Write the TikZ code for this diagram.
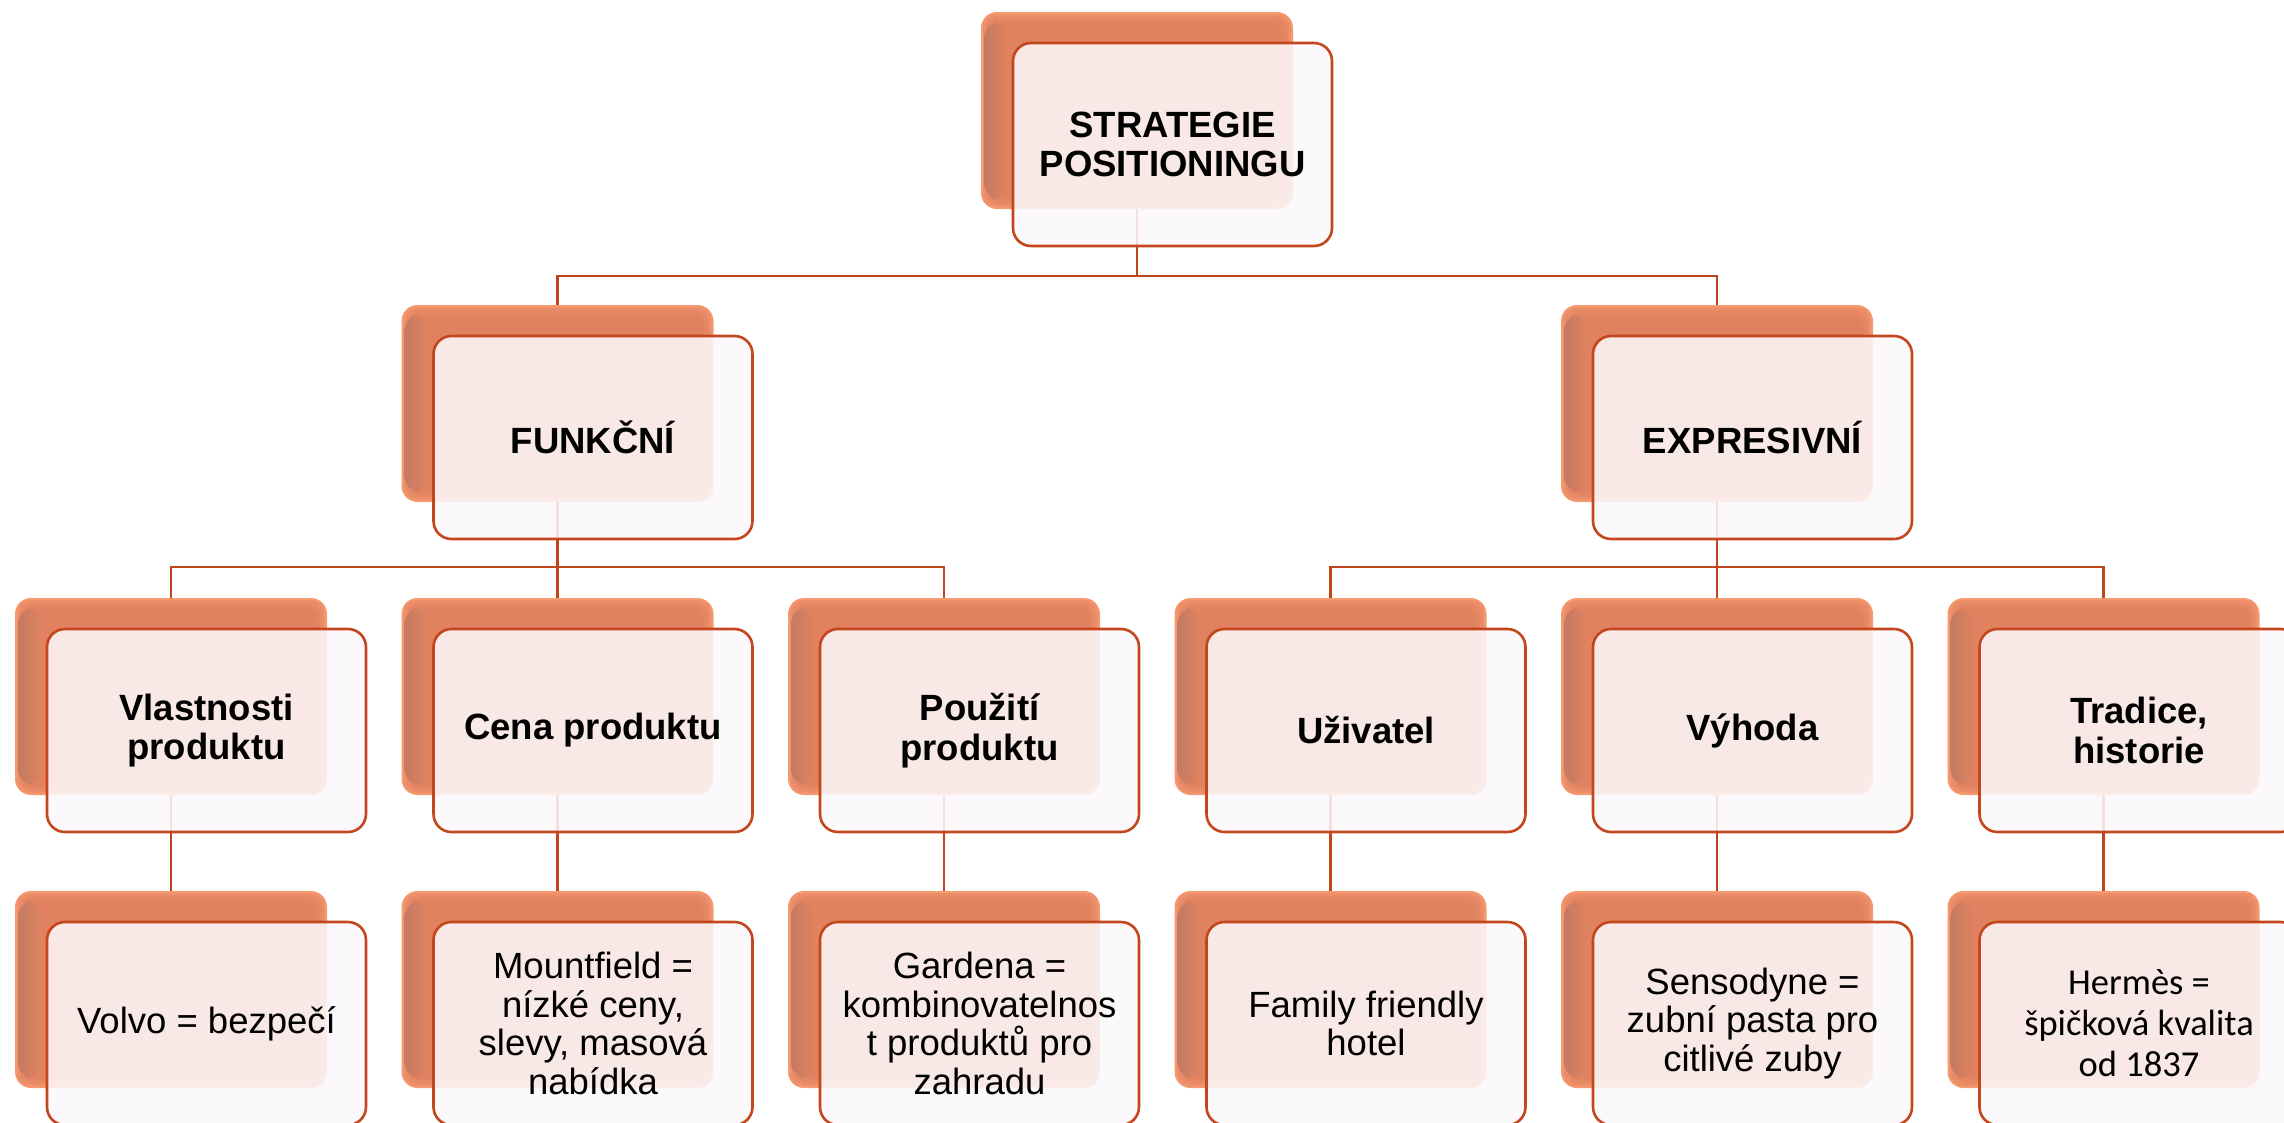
\documentclass[tikz,border=0pt]{standalone}
\usepackage{fontspec}
\setmainfont{Liberation Sans}
\newfontfamily\calibfont{Carlito}
\usetikzlibrary{calc}
\definecolor{edgeor}{HTML}{F69A70}
\definecolor{backmain}{HTML}{E0825F}
\definecolor{leftdark}{HTML}{C47A63}
\definecolor{frontfill}{HTML}{FCF8FB}
\definecolor{frontdraw}{HTML}{C4461C}
\definecolor{connc}{HTML}{C0461E}
\begin{document}
\begin{tikzpicture}[x=1pt,y=-1pt,
  backbox/.style={rectangle, rounded corners=16, minimum width=312, minimum height=197,
    inner sep=0, fill=edgeor,
    path picture={
      \foreach \i in {1,...,7}{
        \fill[backmain, fill opacity=0.35, rounded corners=12]
          ([xshift=\i*2pt, yshift=-\i*2pt]path picture bounding box.north west)
          rectangle ([xshift=-\i*2pt, yshift=\i*2pt]path picture bounding box.south east);
      }
      \shade[left color=leftdark, right color=backmain]
        ([xshift=3pt, yshift=-10pt]path picture bounding box.north west)
        rectangle ([xshift=26pt, yshift=10pt]path picture bounding box.south west);
    }},
  frontbox/.style={rectangle, rounded corners=18, minimum width=319, minimum height=203,
    inner sep=4, draw=frontdraw, line width=2.6, fill=frontfill, fill opacity=0.87,
    text opacity=1, align=center, text=black},
  headtxt/.style={font=\bfseries\fontsize{36.5}{39.5}\selectfont},
  leaftxt/.style={font=\fontsize{36.5}{38.5}\selectfont},
  conn/.style={draw=connc, line width=2.8}
]
\useasboundingbox (0,0) rectangle (2284,1122);

% back boxes
\node[backbox] (topB) at (1137,110.5) {};
\node[backbox] (funB) at (557.5,403.5) {};
\node[backbox] (expB) at (1717,403.5) {};
\node[backbox] (vlB) at (171,696.5) {};
\node[backbox] (ceB) at (557.5,696.5) {};
\node[backbox] (poB) at (944,696.5) {};
\node[backbox] (uzB) at (1330.5,696.5) {};
\node[backbox] (vyB) at (1717,696.5) {};
\node[backbox] (trB) at (2103.5,696.5) {};
\node[backbox] (voB) at (171,989.5) {};
\node[backbox] (moB) at (557.5,989.5) {};
\node[backbox] (gaB) at (944,989.5) {};
\node[backbox] (faB) at (1330.5,989.5) {};
\node[backbox] (seB) at (1717,989.5) {};
\node[backbox] (heB) at (2103.5,989.5) {};

% buses
\coordinate (bus1) at (0,276);
\coordinate (bus2) at (0,567);

% connectors
\draw[conn] (topB.south) -- (topB.south |- bus1) -| (funB.north);
\draw[conn] (topB.south |- bus1) -| (expB.north);
\draw[conn] (funB.south) -- (funB.south |- bus2) -| (vlB.north);
\draw[conn] (funB.south |- bus2) -| (ceB.north);
\draw[conn] (funB.south |- bus2) -| (poB.north);
\draw[conn] (expB.south) -- (expB.south |- bus2) -| (uzB.north);
\draw[conn] (expB.south |- bus2) -| (vyB.north);
\draw[conn] (expB.south |- bus2) -| (trB.north);
\draw[conn] (vlB.south) -- (voB.north);
\draw[conn] (ceB.south) -- (moB.north);
\draw[conn] (poB.south) -- (gaB.north);
\draw[conn] (uzB.south) -- (faB.north);
\draw[conn] (vyB.south) -- (seB.north);
\draw[conn] (trB.south) -- (heB.north);

% front boxes
\node[frontbox, headtxt] (topF) at (1172.5,144.5) {STRATEGIE\\POSITIONINGU};
\node[frontbox, headtxt] (funF) at (593,437.5) {FUNKČNÍ};
\node[frontbox, headtxt] (expF) at (1752.5,437.5) {EXPRESIVNÍ};
\node[frontbox, headtxt] (vlF) at (206.5,730.5) {Vlastnosti\\produktu};
\node[frontbox, headtxt] (ceF) at (593,730.5) {Cena produktu};
\node[frontbox, headtxt] (poF) at (979.5,730.5) {Použití\\produktu};
\node[frontbox, headtxt] (uzF) at (1366,730.5) {Uživatel};
\node[frontbox, headtxt] (vyF) at (1752.5,730.5) {Výhoda};
\node[frontbox, headtxt] (trF) at (2139,730.5) {Tradice,\\historie};
\node[frontbox, leaftxt] (voF) at (206.5,1023.5) {Volvo = bezpečí};
\node[frontbox, leaftxt] (moF) at (593,1023.5) {Mountfield =\\nízké ceny,\\slevy, masová\\nabídka};
\node[frontbox, leaftxt] (gaF) at (979.5,1023.5) {Gardena =\\kombinovatelnos\\t produktů pro\\zahradu};
\node[frontbox, leaftxt] (faF) at (1366,1023.5) {Family friendly\\hotel};
\node[frontbox, leaftxt] (seF) at (1752.5,1023.5) {Sensodyne =\\zubní pasta pro\\citlivé zuby};
\node[frontbox, font=\calibfont\fontsize{36.5}{41}\selectfont] (heF) at (2139,1023.5) {Hermès =\\špičková kvalita\\od 1837};
\end{tikzpicture}
\end{document}
